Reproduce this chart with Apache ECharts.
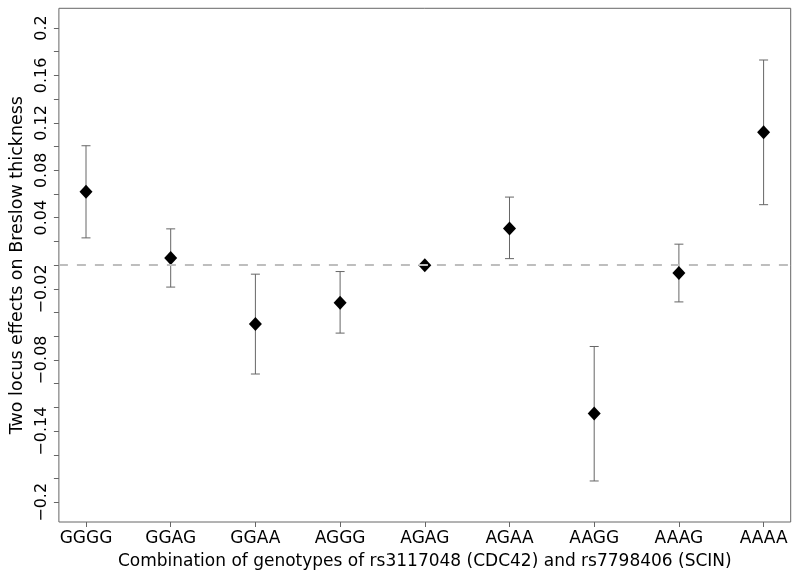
<!DOCTYPE html>
<html>
<head>
<meta charset="utf-8">
<script src="https://cdn.jsdelivr.net/npm/echarts@6/dist/echarts.min.js"></script>
<style>html,body{margin:0;padding:0;background:#fff}#c{width:800px;height:577px}</style>
</head>
<body>
<div id="c"></div>
<script>
const categories = ['GGGG','GGAG','GGAA','AGGG','AGAG','AGAA','AAGG','AAAG','AAAA'];
const estimates = [0.062, 0.006, -0.0497, -0.0317, 0.0, 0.031, -0.125, -0.0067, 0.112];
const lowerCI = [0.023, -0.0185, -0.0918, -0.0573, null, 0.0055, -0.182, -0.031, 0.051];
const upperCI = [0.1007, 0.0306, -0.0076, -0.0054, null, 0.0574, -0.0686, 0.0177, 0.173];
const yTickValues = [-0.2,-0.18,-0.16,-0.14,-0.12,-0.1,-0.08,-0.06,-0.04,-0.02,0,0.02,0.04,0.06,0.08,0.1,0.12,0.14,0.16,0.18,0.2];
const yLabelValues = [-0.2,-0.14,-0.08,-0.02,0.04,0.08,0.12,0.16,0.2];
const referenceLine = 0;

const xPos = categories.map((c,i)=>i+1);
const font = 'DejaVu Sans';
const chart = echarts.init(document.getElementById('c'), null, {renderer:'canvas'});
const fmtY = v => String(Math.round(v*100)/100).replace('-', '\u2212');

chart.setOption({
  animation:false,
  backgroundColor:'#fff',
  grid:{left:57.5, right:9.3, top:8.3, bottom:55, show:true, borderColor:'#666', borderWidth:1, containLabel:false},
  xAxis:{
    type:'value', min:0.68, max:9.32,
    name:'Combination of genotypes of rs3117048 (CDC42) and rs7798406 (SCIN)',
    nameLocation:'middle', nameGap:31,
    nameTextStyle:{fontFamily:font, fontSize:17, color:'#000'},
    axisLine:{show:false, onZero:false},
    axisTick:{show:true, customValues:xPos, length:5, lineStyle:{color:'#666'}},
    axisLabel:{customValues:xPos, formatter:v=>categories[Math.round(v)-1], fontFamily:font, fontSize:17, color:'#000', margin:8},
    splitLine:{show:false}
  },
  yAxis:{
    type:'value', min:-0.2166, max:0.2166,
    name:'Two locus effects on Breslow thickness',
    nameLocation:'middle', nameGap:31,
    nameTextStyle:{fontFamily:font, fontSize:17.5, color:'#000'},
    axisLine:{show:false, onZero:false},
    axisTick:{show:true, customValues:yTickValues, length:5, lineStyle:{color:'#666'}},
    axisLabel:{customValues:yLabelValues, formatter:fmtY, rotate:90, fontFamily:font, fontSize:16, color:'#000', margin:9},
    splitLine:{show:false}
  },
  series:[
    {
      type:'custom',
      data: xPos.map((x,i)=>[x, lowerCI[i], upperCI[i]]),
      renderItem:(params, api)=>{
        const lo = api.value(1), hi = api.value(2);
        if (lo === null || hi === null || isNaN(lo) || isNaN(hi)) return;
        const p1 = api.coord([api.value(0), lo]);
        const p2 = api.coord([api.value(0), hi]);
        const w = 4.5;
        const st = {stroke:'#666', lineWidth:1};
        return {type:'group', children:[
          {type:'line', shape:{x1:p1[0], y1:p1[1], x2:p2[0], y2:p2[1]}, style:st},
          {type:'line', shape:{x1:p1[0]-w, y1:p1[1], x2:p1[0]+w, y2:p1[1]}, style:st},
          {type:'line', shape:{x1:p2[0]-w, y1:p2[1], x2:p2[0]+w, y2:p2[1]}, style:st}
        ]};
      },
      z:2
    },
    {
      type:'scatter',
      data: xPos.map((x,i)=>[x, estimates[i]]),
      symbol:'diamond', symbolSize:[13,14],
      itemStyle:{color:'#000', opacity:1},
      z:4,
      markLine:{
        silent:true, symbol:['none','none'], label:{show:false},
        lineStyle:{color:'#bebebe', width:2, type:[9,9], opacity:1},
        data:[{yAxis:referenceLine}]
      }
    }
  ]
});
</script>
</body>
</html>
